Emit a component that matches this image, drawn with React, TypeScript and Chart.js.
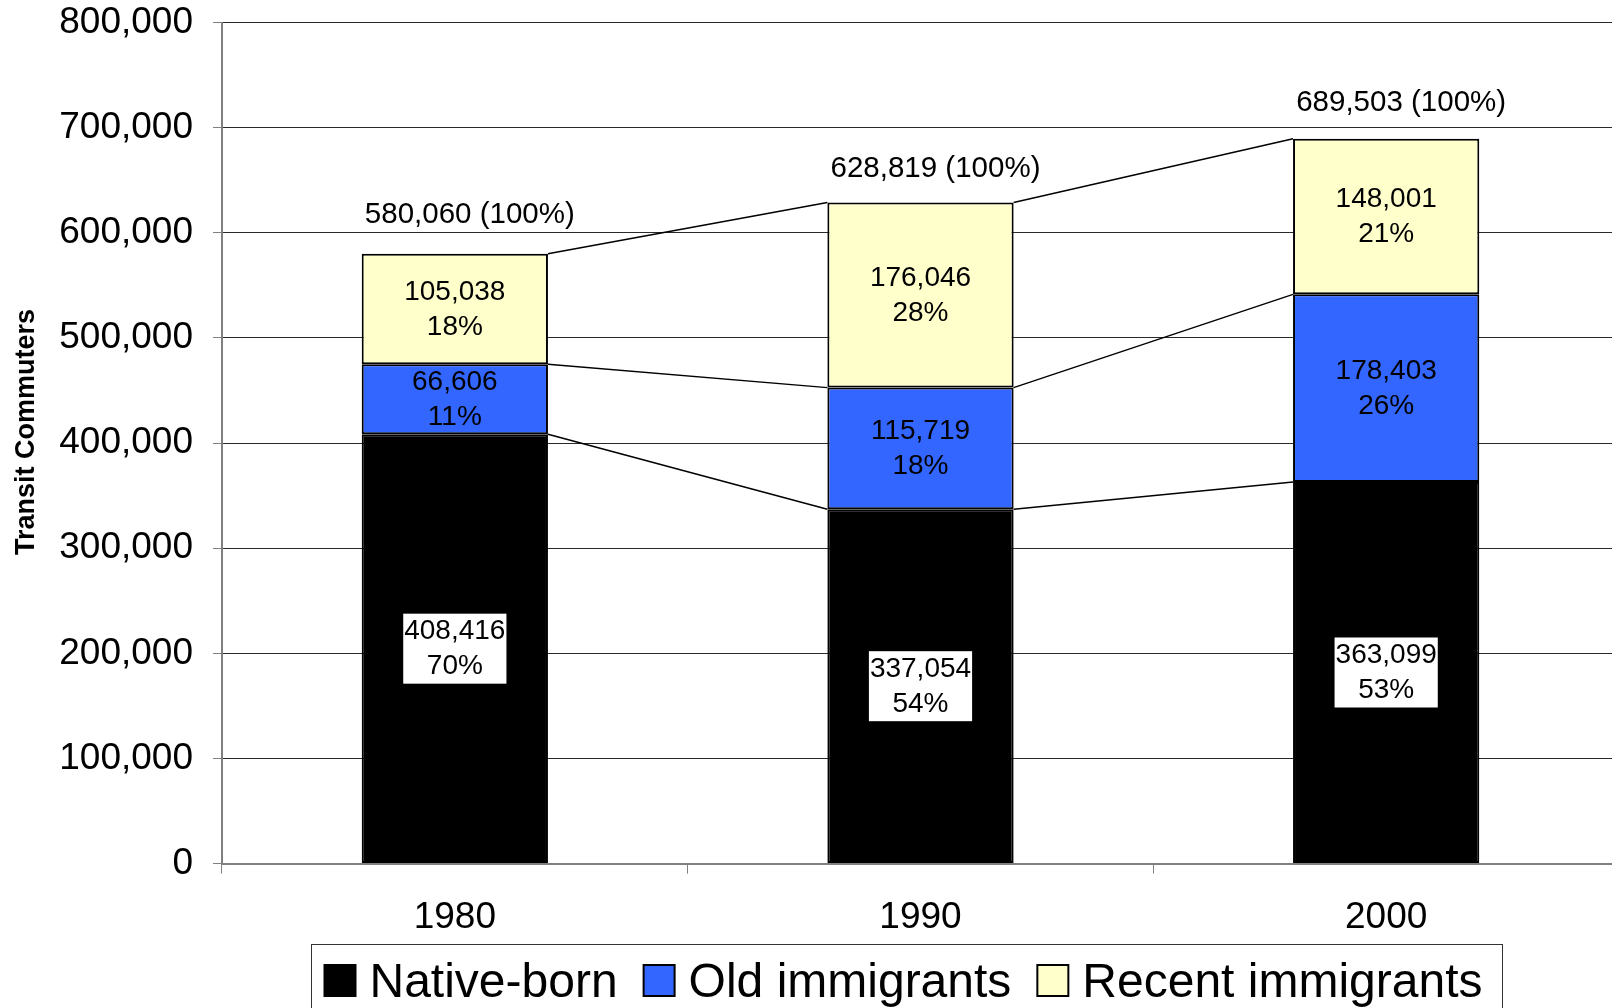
import React, { useEffect, useRef } from "react";
import { Chart, registerables } from "chart.js";

Chart.register(...registerables);

const years = ["1980", "1990", "2000"];
const nativeBorn = [408416, 337054, 363099];
const oldImmigrants = [66606, 115719, 178403];
const recentImmigrants = [105038, 176046, 148001];
const nativePct = ["70%", "54%", "53%"];
const oldPct = ["11%", "18%", "26%"];
const recentPct = ["18%", "28%", "21%"];
const totals = [580060, 628819, 689503];
const totalPct = ["100%", "100%", "100%"];
const seriesNames = ["Native-born", "Old immigrants", "Recent immigrants"];
const seriesColors = ["#000000", "#3366FF", "#FFFFCC"];
const yTicks = [0, 100000, 200000, 300000, 400000, 500000, 600000, 700000, 800000];
const yTitle = "Transit Commuters";

const FONT = "'Liberation Sans', Arial, sans-serif";
const fmt = (v: number) => v.toLocaleString("en-US");

// style: vertical gap between bar top and its total label (px)
const TOTAL_LABEL_GAP = [39, 34, 36];

const overlayPlugin = {
  id: "overlay",
  afterDatasetsDraw(chart: any) {
    const ctx = chart.ctx;
    const pctSets = [nativePct, oldPct, recentPct];
    ctx.save();
    // series connector lines
    ctx.strokeStyle = "#000";
    ctx.lineWidth = 1.5;
    for (let d = 0; d < chart.data.datasets.length; d++) {
      const meta = chart.getDatasetMeta(d);
      for (let i = 0; i < meta.data.length - 1; i++) {
        const a = meta.data[i];
        const b = meta.data[i + 1];
        ctx.beginPath();
        ctx.moveTo(a.x + a.width / 2, a.y);
        ctx.lineTo(b.x - b.width / 2, b.y);
        ctx.stroke();
      }
    }
    // segment labels
    ctx.font = `28px ${FONT}`;
    ctx.textAlign = "center";
    ctx.textBaseline = "middle";
    for (let d = 0; d < chart.data.datasets.length; d++) {
      const meta = chart.getDatasetMeta(d);
      const ds = chart.data.datasets[d];
      meta.data.forEach((bar: any, i: number) => {
        const mid = (bar.y + bar.base) / 2;
        const l1 = fmt(ds.data[i]);
        const l2 = pctSets[d][i];
        if (d === 0) {
          const w = Math.max(ctx.measureText(l1).width, ctx.measureText(l2).width) + 2;
          ctx.fillStyle = "#fff";
          ctx.fillRect(bar.x - w / 2, mid - 35, w, 70);
        }
        ctx.fillStyle = "#000";
        ctx.fillText(l1, bar.x, mid - 17);
        ctx.fillText(l2, bar.x, mid + 18);
      });
    }
    // total labels
    ctx.font = `29.5px ${FONT}`;
    const yScale = chart.scales.y;
    const topMeta = chart.getDatasetMeta(0);
    topMeta.data.forEach((bar: any, i: number) => {
      const y = yScale.getPixelForValue(totals[i]);
      ctx.fillStyle = "#000";
      ctx.fillText(`${fmt(totals[i])} (${totalPct[i]})`, bar.x + 15, y - TOTAL_LABEL_GAP[i]);
    });
    ctx.restore();
  },
  afterDraw(chart: any) {
    const ctx = chart.ctx;
    ctx.save();
    // y title
    ctx.font = `bold 27px ${FONT}`;
    ctx.fillStyle = "#000";
    ctx.textAlign = "center";
    ctx.textBaseline = "middle";
    ctx.translate(27, 432);
    ctx.rotate(-Math.PI / 2);
    ctx.fillText(yTitle, 0, 0);
    ctx.restore();

    // legend
    ctx.save();
    ctx.strokeStyle = "#333";
    ctx.lineWidth = 1;
    ctx.fillStyle = "#fff";
    ctx.fillRect(311.5, 944.5, 1191, 80);
    ctx.strokeRect(311.5, 944.5, 1191, 80);
    ctx.font = `48px ${FONT}`;
    ctx.textAlign = "left";
    ctx.textBaseline = "alphabetic";
    let x = 324.5;
    seriesNames.forEach((name, i) => {
      ctx.fillStyle = seriesColors[i];
      ctx.fillRect(x, 965, 31, 31);
      ctx.strokeStyle = "#000";
      ctx.lineWidth = 2;
      ctx.strokeRect(x, 965, 31, 31);
      const tx = x + 45;
      ctx.fillStyle = "#000";
      ctx.fillText(name, tx, 997);
      x = tx + ctx.measureText(name).width + 26;
    });
    ctx.restore();
  },
};

export default function App() {
  const ref = useRef<HTMLCanvasElement>(null);
  useEffect(() => {
    if (!ref.current) return;
    const chart = new Chart(ref.current, {
      type: "bar",
      data: {
        labels: years,
        datasets: [nativeBorn, oldImmigrants, recentImmigrants].map((data, i) => ({
          label: seriesNames[i],
          data,
          backgroundColor: seriesColors[i],
          borderColor: "#000",
          borderWidth: 2,
          borderSkipped: false,
          categoryPercentage: 1,
          barPercentage: 0.4,
        })),
      },
      options: {
        responsive: false,
        animation: false,
        devicePixelRatio: 1,
        layout: { padding: { top: 22.6, right: 6, left: 0, bottom: 0 } },
        plugins: { legend: { display: false }, tooltip: { enabled: false } },
        scales: {
          x: {
            stacked: true,
            grid: {
              drawOnChartArea: false,
              drawTicks: true,
              tickLength: 10,
              color: "#808080",
              offset: true,
            },
            border: { color: "#808080", width: 2 },
            ticks: { font: { family: FONT, size: 37 }, color: "#000", padding: 22 },
            afterFit: (s: any) => {
              s.height = 144.4;
              s.paddingLeft = 0;
              s.paddingRight = 0;
            },
          },
          y: {
            stacked: true,
            min: 0,
            max: 800000,
            afterBuildTicks: (s: any) => {
              s.ticks = yTicks.map((v) => ({ value: v }));
            },
            ticks: {
              font: { family: FONT, size: 37 },
              color: "#000",
              padding: 20,
              callback: (v: any) => fmt(Number(v)),
            },
            grid: { color: "#2a2a2a", lineWidth: 1, tickLength: 9, tickColor: "#808080" },
            border: { color: "#808080", width: 2 },
            afterFit: (s: any) => {
              s.width = 222;
              s.paddingTop = 0;
              s.paddingBottom = 0;
            },
          },
        },
      },
      plugins: [overlayPlugin],
    });
    return () => chart.destroy();
  }, []);
  return (
    <div
      style={{
        position: "fixed",
        left: 0,
        top: 0,
        width: 1612,
        height: 1008,
        overflow: "hidden",
        background: "#fff",
      }}
    >
      <canvas ref={ref} width={1625} height={1008} style={{ display: "block" }} />
    </div>
  );
}
